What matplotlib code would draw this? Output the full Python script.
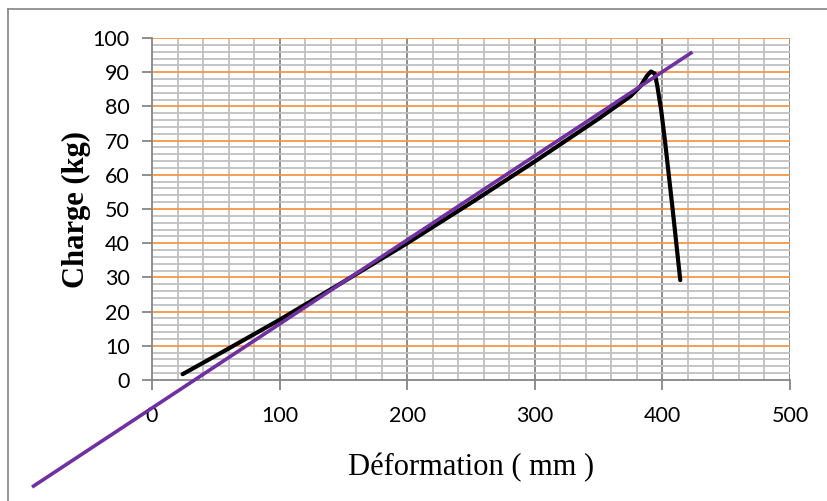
import matplotlib.pyplot as plt
from matplotlib.ticker import MultipleLocator
from matplotlib.lines import Line2D
import numpy as np

# measured curve (deformation mm, load kg)
deformation = [24, 50, 100, 150, 200, 250, 300, 350, 375, 383, 388, 391, 394, 396, 399, 402, 408, 414]
charge = [1.7, 7.1, 17.6, 28.7, 40.0, 51.8, 63.9, 76.4, 83.0, 86.0, 89.0, 90.2, 89.6, 86.0, 79.0, 70.0, 50.0, 29.2]

# linear trendline (with backward/forward forecast)
trend_slope = 0.2458
trend_intercept = -8.2
trend_x = [-94, 423.5]

W, H = 828, 501
fig = plt.figure(figsize=(W / 100, H / 100), dpi=100)
ax = fig.add_axes([152 / W, 1 - 380 / H, (790 - 152) / W, (380 - 38) / H])

# outer chart border
for xs, ys in [([8 / W, 8 / W], [0, 1 - 9 / H]), ([8 / W, 1], [1 - 9 / H, 1 - 9 / H])]:
    fig.add_artist(Line2D(xs, ys, color='#8c8c8c', lw=1.3))

ax.set_xlim(0, 500)
ax.set_ylim(0, 100)

# grid
for x in np.arange(20, 501, 20):
    c = '#868686' if x % 100 == 0 else '#c0c0c0'
    ax.axvline(x, color=c, lw=1.3, zorder=1)
for y in np.arange(2, 101, 2):
    c = '#f79646' if y % 10 == 0 else '#c0c0c0'
    ax.axhline(y, color=c, lw=1.3, zorder=1 if y % 10 else 1.5)

tx = np.array(trend_x)
ax.plot(tx, trend_slope * tx + trend_intercept, color='#7030a0', lw=2.6,
        solid_capstyle='butt', clip_on=False, zorder=4)
ax.plot(deformation, charge, color='black', lw=3, solid_capstyle='round',
        solid_joinstyle='round', zorder=3)

ax.xaxis.set_major_locator(MultipleLocator(100))
ax.yaxis.set_major_locator(MultipleLocator(10))
for s in ['top', 'right']:
    ax.spines[s].set_visible(False)
for s in ['left', 'bottom']:
    ax.spines[s].set_color('#868686')
    ax.spines[s].set_linewidth(1.3)
ax.tick_params(axis='both', colors='#868686', width=1.3, length=7,
               labelcolor='black', labelsize=15.5)
ax.tick_params(axis='x', pad=12)
ax.tick_params(axis='y', pad=9)
for lbl in ax.get_xticklabels() + ax.get_yticklabels():
    lbl.set_family('Lato')

ax.set_xlabel('Déformation ( mm )', family='Liberation Serif', fontsize=22, labelpad=19)
ax.set_ylabel('Charge (kg)', family='Liberation Serif', fontweight='bold', fontsize=22, labelpad=1)

fig.savefig('out.png', dpi=100)
